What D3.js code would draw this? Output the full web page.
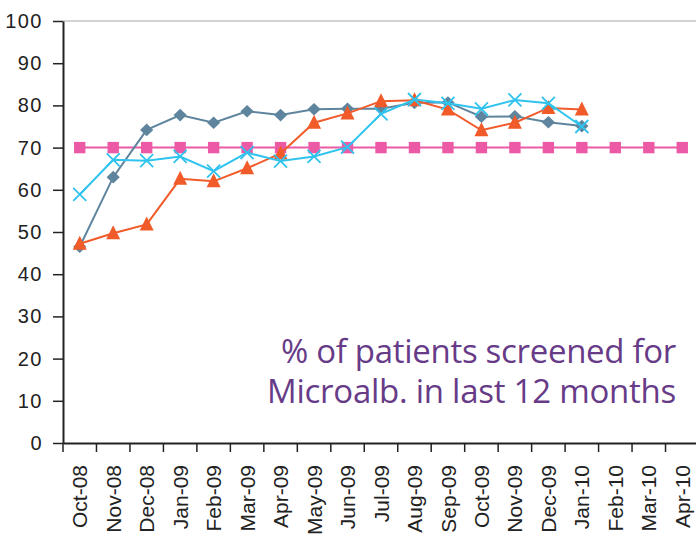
<!DOCTYPE html>
<html>
<head>
<meta charset="utf-8">
<script src="https://cdn.jsdelivr.net/npm/d3@7"></script>
<style>
  body { margin: 0; background: #fff; }
  svg { display: block; }
</style>
</head>
<body>
<div id="chart"></div>
<script>
// months on the category axis
const months = ["Oct-08", "Nov-08", "Dec-08", "Jan-09", "Feb-09", "Mar-09", "Apr-09", "May-09",
  "Jun-09", "Jul-09", "Aug-09", "Sep-09", "Oct-09", "Nov-09", "Dec-09", "Jan-10", "Feb-10",
  "Mar-10", "Apr-10"];

// series values (null = no value)
const target = [70, 70, 70, 70, 70, 70, 70, 70, 70, 70, 70, 70, 70, 70, 70, 70, 70, 70, 70];
const greySeries = [46.5, 63, 74.2, 77.7, 75.9, 78.6, 77.7, 79.1, 79.2, 79.2, 80.6, 80.7, 77.3, 77.4, 76, 75.1, null, null, null];
const orangeSeries = [47.2, 49.7, 51.8, 62.6, 62, 65.1, 68.6, 75.9, 78.1, 81, 81.2, 79, 74.1, 75.9, 79.4, 79, null, null, null];
const cyanSeries = [58.9, 67.1, 66.9, 67.9, 64.4, 68.8, 66.8, 67.9, 70.1, 78, 81.4, 80.5, 79.2, 81.3, 80.5, 75, null, null, null];

const yTicks = [0, 10, 20, 30, 40, 50, 60, 70, 80, 90, 100];
const noteLines = ["% of patients screened for", "Microalb. in last 12 months"];

const width = 696, height = 536;
const margin = {top: 21, right: -3, bottom: 93, left: 63};

const svg = d3.select("#chart").append("svg")
    .attr("width", width)
    .attr("height", height);

const x = d3.scaleBand()
    .domain(months)
    .range([margin.left, width - margin.right]);

const y = d3.scaleLinear()
    .domain([0, 100])
    .range([height - margin.bottom, margin.top]);

const cx = d => x(d) + x.bandwidth() / 2;

// light grey top border of the plot area
svg.append("line")
    .attr("x1", margin.left).attr("x2", width)
    .attr("y1", y(100)).attr("y2", y(100))
    .attr("stroke", "#c4c4c4")
    .attr("stroke-width", 1.5);

// y axis
const yAxis = svg.append("g")
    .attr("transform", `translate(${margin.left},0)`)
    .call(d3.axisLeft(y).tickValues(yTicks).tickSize(10).tickPadding(10).tickSizeOuter(0));
yAxis.select(".domain").attr("stroke", "#222").attr("stroke-width", 2);
yAxis.selectAll(".tick line").attr("stroke", "#222").attr("stroke-width", 1.5);
yAxis.selectAll(".tick text")
    .attr("fill", "#222")
    .style("font-family", "'Liberation Sans', Arial, sans-serif")
    .style("font-size", "20px")
    .style("letter-spacing", "1.5px");

// x axis
const xAxis = svg.append("g")
    .attr("transform", `translate(0,${y(0)})`)
    .call(d3.axisBottom(x).tickSize(0).tickSizeOuter(0));
xAxis.select(".domain").attr("stroke", "#222").attr("stroke-width", 2);
xAxis.selectAll(".tick line").remove();
xAxis.selectAll(".tick text")
    .attr("fill", "#222")
    .attr("transform", "rotate(-90)")
    .attr("text-anchor", "end")
    .attr("x", -22)
    .attr("y", 0)
    .attr("dy", "0.36em")
    .style("font-family", "'Liberation Sans', Arial, sans-serif")
    .style("font-size", "21px");

// tick marks between categories
xAxis.selectAll(".sep")
    .data(months.concat(["end"]))
    .join("line")
    .attr("class", "sep")
    .attr("x1", (d, i) => i < months.length ? x(d) : x.range()[1])
    .attr("x2", (d, i) => i < months.length ? x(d) : x.range()[1])
    .attr("y1", 0).attr("y2", 9)
    .attr("stroke", "#222")
    .attr("stroke-width", 1.5);

function drawSeries(values, color, marker) {
    const pts = months.map((m, i) => ({m, v: values[i]})).filter(d => d.v != null);
    const line = d3.line().x(d => cx(d.m)).y(d => y(d.v));
    const g = svg.append("g");
    g.append("path")
        .datum(pts)
        .attr("d", line)
        .attr("fill", "none")
        .attr("stroke", color)
        .attr("stroke-width", 2);
    const m = g.selectAll("g.pt")
        .data(pts)
        .join("g")
        .attr("class", "pt")
        .attr("transform", d => `translate(${cx(d.m)},${y(d.v)})`);
    if (marker === "x") {
        m.append("path")
            .attr("d", "M-6.5,-6.5L6.5,6.5M-6.5,6.5L6.5,-6.5")
            .attr("stroke", color)
            .attr("stroke-width", 1.8)
            .attr("fill", "none");
    } else {
        m.append("path")
            .attr("d", marker)
            .attr("fill", color);
    }
}

drawSeries(target, "#ec5aa6", "M-5.7,-5.7H5.7V5.7H-5.7Z");
drawSeries(greySeries, "#5f859e", "M0,-6.3L6.6,0L0,6.3L-6.6,0Z");
drawSeries(orangeSeries, "#f15a29", "M0,-8L7,6L-7,6Z");
drawSeries(cyanSeries, "#2fc3ee", "x");

// annotation, one text per line; tighten the letters so each line fits its width
const noteWidths = [395, 409];
svg.selectAll("text.note")
    .data(noteLines)
    .join("text")
    .attr("class", "note")
    .attr("fill", "#673b87")
    .attr("text-anchor", "end")
    .style("font-family", "'Open Sans', sans-serif")
    .style("font-size", "33px")
    .attr("x", 676)
    .attr("y", (d, i) => 363 + i * 40)
    .text(d => d)
    .each(function(d, i) {
        const natural = this.getComputedTextLength();
        const ls = (noteWidths[i] - natural) / d.length;
        d3.select(this).style("letter-spacing", ls + "px");
    });
</script>
</body>
</html>
